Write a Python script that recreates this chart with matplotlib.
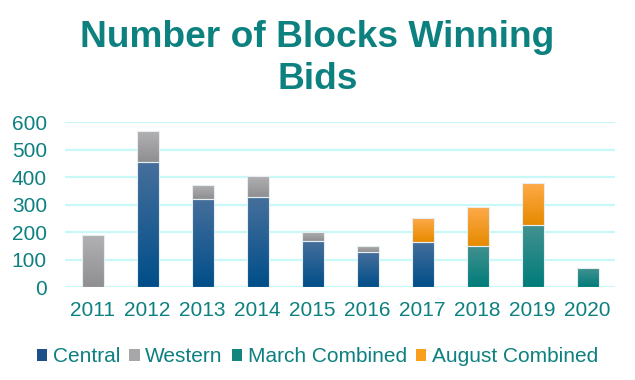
import numpy as np
import matplotlib
matplotlib.use("Agg")
import matplotlib.pyplot as plt
from matplotlib.colors import LinearSegmentedColormap
from matplotlib.patches import Patch

years = ["2011", "2012", "2013", "2014", "2015", "2016", "2017", "2018", "2019", "2020"]
central = [0, 455, 321, 327, 167, 127, 164, 0, 0, 0]
western = [190, 113, 51, 79, 33, 24, 0, 0, 0, 0]
march_combined = [0, 0, 0, 0, 0, 0, 0, 150, 225, 69]
august_combined = [0, 0, 0, 0, 0, 0, 89, 142, 154, 0]
series_names = ["Central", "Western", "March Combined", "August Combined"]
yticks = [0, 100, 200, 300, 400, 500, 600]

TEAL = "#0d8080"
# (top colour, bottom colour, legend colour)
styles = [
    ("#466f9c", "#004e89", "#1d4f88"),
    ("#b2b2b4", "#8f8f92", "#a7a7a9"),
    ("#42918f", "#007d7a", "#12857f"),
    ("#ffab4a", "#e68a00", "#f99f1c"),
]

plt.rcParams["font.family"] = ["Liberation Sans", "DejaVu Sans"]
fig = plt.figure(figsize=(6.35, 3.8), dpi=100)
ax = fig.add_axes([65 / 635, 1 - 287.3 / 380, 550 / 635, (287.3 - 122.3) / 380])

x = np.arange(len(years))
bottom = np.zeros(len(years))
all_series = [central, western, march_combined, august_combined]
for vals, (ctop, cbot, _) in zip(all_series, styles):
    vals = np.array(vals, dtype=float)
    bars = ax.bar(x, vals, width=0.4, bottom=bottom, color="none",
                  edgecolor="none", zorder=3)
    cmap = LinearSegmentedColormap.from_list("g", [cbot, ctop])
    grad = np.linspace(0, 1, 64).reshape(-1, 1)
    for b, v in zip(bars, vals):
        if v <= 0:
            continue
        x0, y0, w, h = b.get_x(), b.get_y(), b.get_width(), b.get_height()
        im = ax.imshow(grad, cmap=cmap, origin="lower", aspect="auto",
                       extent=[x0, x0 + w, y0, y0 + h], zorder=3,
                       interpolation="bilinear")
        im.set_clip_path(b)
        ax.add_patch(plt.Rectangle((x0, y0), w, h, fill=False,
                                   edgecolor="#e6eef2", linewidth=0.8, zorder=4))
    bottom += vals

ax.set_xlim(-0.5, len(years) - 0.5)
ax.set_ylim(0, 600)
ax.set_yticks(yticks)
ax.set_xticks(x)
ax.set_xticklabels(years)
ax.grid(axis="y", color="#c8f8f8", linewidth=1.6, zorder=0)
ax.set_axisbelow(True)
for s in ax.spines.values():
    s.set_visible(False)
ax.tick_params(axis="both", length=0, labelcolor=TEAL, labelsize=15)
ax.tick_params(axis="y", pad=13)
ax.tick_params(axis="x", pad=10)

fig.text(0.5, 1 - 20 / 380, "Number of Blocks Winning\nBids", ha="center", va="top",
         fontsize=26.7, fontweight="bold", color=TEAL, linespacing=1.25)

handles = [Patch(facecolor=s[2], edgecolor="none") for s in styles]
leg = fig.legend(handles, series_names, loc="center", bbox_to_anchor=(0.5, 1 - 357 / 380),
                 ncol=4, frameon=False, fontsize=15, handlelength=0.5,
                 handleheight=0.5, handletextpad=0.25, columnspacing=0.45,
                 borderpad=0, borderaxespad=0)
for t in leg.get_texts():
    t.set_color(TEAL)

fig.savefig("out.png", dpi=100)
